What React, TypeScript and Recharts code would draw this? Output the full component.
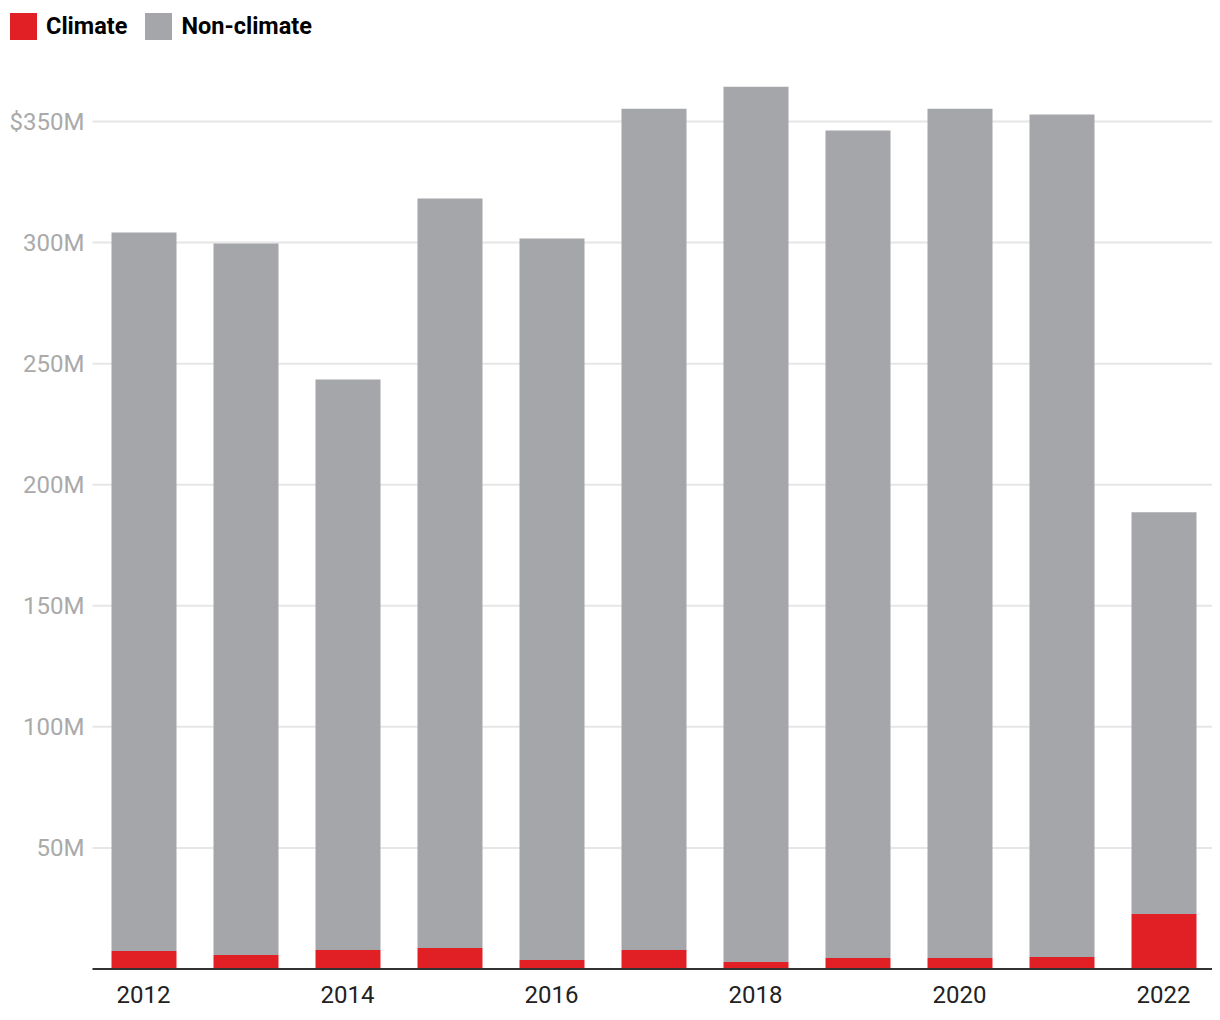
import React from "react";
import { BarChart, Bar, XAxis, YAxis, CartesianGrid, Legend } from "recharts";

const years = ["2012", "2013", "2014", "2015", "2016", "2017", "2018", "2019", "2020", "2021", "2022"];
// values in $M
const climate = [7.4, 5.8, 7.8, 8.7, 3.7, 7.8, 2.9, 4.5, 4.5, 5.0, 22.7];
const totals = [304.2, 299.6, 243.5, 318.2, 301.7, 355.3, 364.4, 346.3, 355.3, 352.9, 188.6];
const nonClimate = totals.map((t, i) => +(t - climate[i]).toFixed(1));
const yTicks = [50, 100, 150, 200, 250, 300, 350];

const RED = "#e02024";
const GRAY = "#a5a6aa";

const data = years.map((y, i) => ({ year: y, climate: climate[i], nonClimate: nonClimate[i] }));

const legendItems = [
  { label: "Climate", color: RED },
  { label: "Non-climate", color: GRAY },
];

const LegendContent = () => (
  <div style={{ display: "flex", alignItems: "center", height: 28, fontFamily: "Roboto", fontWeight: 700, fontSize: 23.5, color: "#000" }}>
    {legendItems.map((it) => (
      <div key={it.label} style={{ display: "flex", alignItems: "center", marginRight: 18 }}>
        <span style={{ display: "inline-block", width: 27, height: 27, background: it.color, marginRight: 9 }} />
        <span>{it.label}</span>
      </div>
    ))}
  </div>
);

const fmtY = (v: number) => (v === 350 ? `$${v}M` : `${v}M`);

export default function App() {
  return (
    <div style={{ fontFamily: "Roboto" }}>
      <BarChart
        width={1212}
        height={1004}
        data={data}
        margin={{ top: 25, right: 5.5, bottom: 13, left: 0 }}
        barSize={65}
      >
        <Legend
          verticalAlign="top"
          align="left"
          content={<LegendContent />}
          wrapperStyle={{ top: 4, left: 2, width: "auto" }}
        />
        <CartesianGrid vertical={false} horizontalValues={yTicks} stroke="#e6e6e6" strokeWidth={2} />
        <XAxis
          dataKey="year"
          interval={1}
          tickSize={0}
          tickMargin={17}
          height={30}
          axisLine={{ stroke: "#333", strokeWidth: 2 }}
          tick={{ fill: "#222", fontSize: 24, fontFamily: "Roboto" }}
        />
        <YAxis
          domain={[0, 375]}
          ticks={yTicks}
          width={84.5}
          tickSize={0}
          tickMargin={8}
          axisLine={false}
          tickLine={false}
          tickFormatter={fmtY}
          tick={{ fill: "#aaaaaa", fontSize: 24, fontFamily: "Roboto" }}
        />
        <Bar dataKey="climate" stackId="a" fill={RED} name="Climate" isAnimationActive={false} />
        <Bar dataKey="nonClimate" stackId="a" fill={GRAY} name="Non-climate" isAnimationActive={false} />
      </BarChart>
    </div>
  );
}
